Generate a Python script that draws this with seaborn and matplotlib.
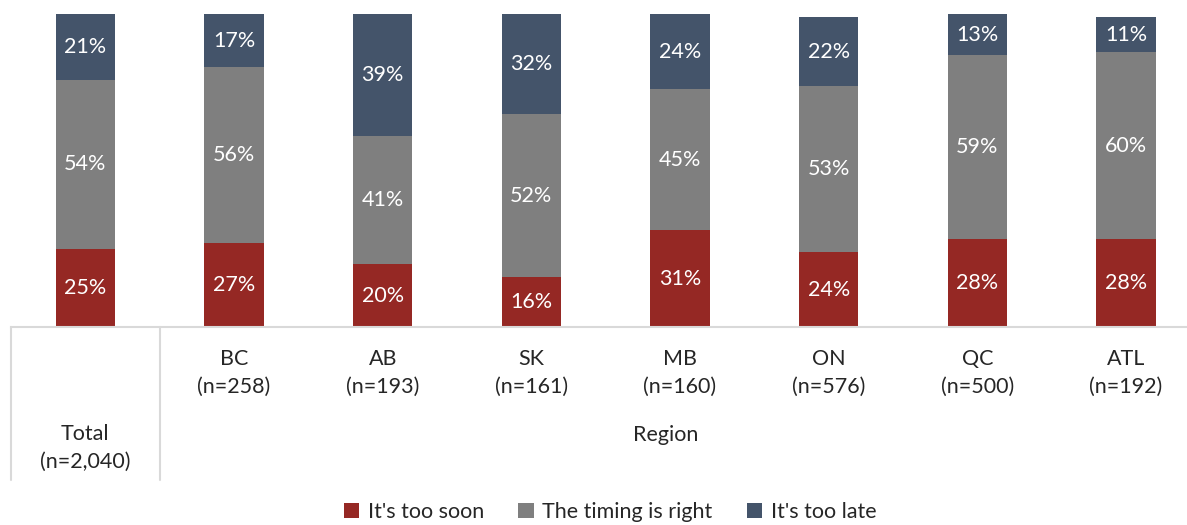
import matplotlib
matplotlib.use("Agg")
import matplotlib.pyplot as plt
import matplotlib.transforms as mtransforms
import pandas as pd
import seaborn as sns

# --- data ---
groups = ["Total", "BC", "AB", "SK", "MB", "ON", "QC", "ATL"]
sizes = ["n=2,040", "n=258", "n=193", "n=161", "n=160", "n=576", "n=500", "n=192"]
too_soon = [25, 27, 20, 16, 31, 24, 28, 28]
timing_right = [54, 56, 41, 52, 45, 53, 59, 60]
too_late = [21, 17, 39, 32, 24, 22, 13, 11]

series_names = ["It's too soon", "The timing is right", "It's too late"]
series_vals = [too_soon, timing_right, too_late]
colors = ["#952824", "#7f7f7f", "#44546a"]

sns.set_theme(style="white")
plt.rcParams['font.family'] = ['Lato', 'DejaVu Sans']
FS = 15.5

fig = plt.figure(figsize=(11.87, 5.25), dpi=100)
ax = fig.add_axes([0.0093, 0.377, 1.002, 0.596])

bottom = [0] * len(groups)
for name, vals, col in zip(series_names, series_vals, colors):
    df = pd.DataFrame({"group": groups, "value": vals})
    sns.barplot(data=df, x="group", y="value", color=col, bottom=bottom,
                width=0.4, ax=ax, label=name, saturation=1,
                edgecolor="none", linewidth=0)
    for i, v in enumerate(vals):
        ax.text(i, bottom[i] + v / 2, f"{v}%", ha="center", va="center",
                color="white", fontsize=FS)
    bottom = [b + v for b, v in zip(bottom, vals)]

ax.set_ylim(0, 100)
ax.set_xlim(-0.5, 7.5)
ax.set_xticks([])
ax.set_yticks([])
ax.set_xlabel("")
ax.set_ylabel("")
for s in ["top", "left", "right"]:
    ax.spines[s].set_visible(False)
ax.spines["bottom"].set_color("#d9d9d9")
ax.spines["bottom"].set_linewidth(1.5)

# category table below the axis
trans = mtransforms.blended_transform_factory(ax.transData, ax.transAxes)
for xv in [-0.5, 0.5, 7.5]:
    ax.plot([xv, xv], [0, -0.49], transform=trans, color="#d9d9d9",
            lw=1.5, clip_on=False)

for i in range(1, len(groups)):
    ax.text(i, -0.147, f"{groups[i]}\n({sizes[i]})", transform=trans,
            ha="center", va="center", fontsize=FS, linespacing=1.5)
ax.text(0, -0.387, f"{groups[0]}\n({sizes[0]})", transform=trans,
        ha="center", va="center", fontsize=FS, linespacing=1.5)
ax.text(3.9, -0.345, "Region", transform=trans, ha="center", va="center",
        fontsize=FS)

if ax.legend_:
    ax.legend_.remove()
handles, labels = ax.get_legend_handles_labels()
fig.legend(handles, labels, loc="center", bbox_to_anchor=(0.514, 0.024),
           ncol=3, frameon=False, fontsize=FS, handlelength=0.7,
           handleheight=0.7, handletextpad=0.4, columnspacing=1.6,
           borderpad=0.1)

fig.savefig("out.png", dpi=100)
